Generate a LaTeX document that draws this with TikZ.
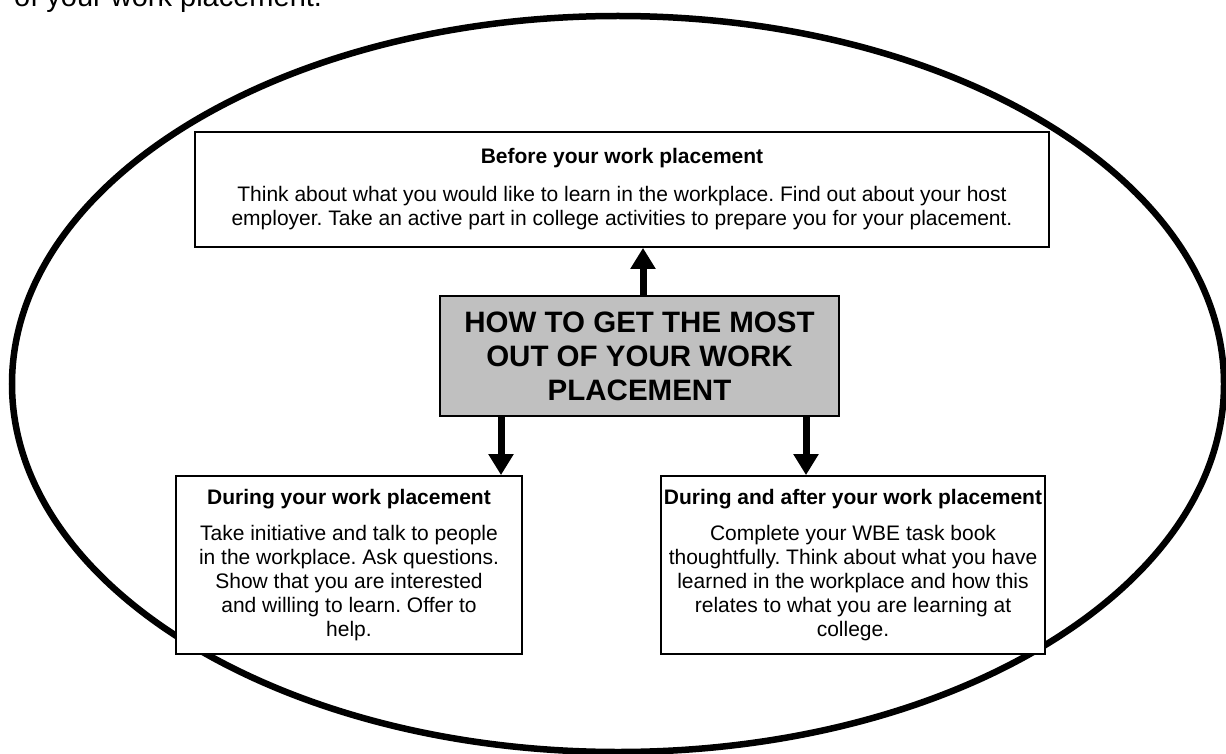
\documentclass[tikz,border=0pt]{standalone}
\usepackage{fontspec}
\setmainfont{Liberation Sans}
\frenchspacing
\usetikzlibrary{arrows.meta}
\definecolor{titlegray}{HTML}{C0C0C0}
\tikzstyle{infobox} = [rectangle, draw=black, line width=1.8pt, fill=white, align=center, inner sep=0pt, font=\fontsize{21}{24}\selectfont]
\tikzstyle{titlebox} = [rectangle, draw=black, line width=2.6pt, fill=titlegray, align=center, inner sep=0pt, font=\fontsize{29.5}{34}\selectfont\bfseries]
\tikzstyle{arrow} = [line width=7pt, -{Triangle[width=24pt, length=21pt]}]

\begin{document}
\begin{tikzpicture}[x=1pt, y=-1pt]
	\useasboundingbox (0,0) rectangle (1226,754);

		% The frame and the cut-off line above it
		\draw [line width=6.5pt] (618,384) ellipse [x radius=606, y radius=368];
		\node (intro) [anchor=base west, inner sep=0pt, font=\fontsize{29}{34}\selectfont] at (14,7) {of your work placement.};

		% Draw the nodes
		\node (before) [infobox, minimum width=854pt, minimum height=115pt] at (622,189.5) {\textbf{Before your work placement}\\[14pt] Think about what you would like to learn in the workplace. Find out about your host\\ employer. Take an active part in college activities to prepare you for your placement.};
		\node (howto) [titlebox, minimum width=399pt, minimum height=120pt] at (639.5,356) {HOW TO GET THE MOST\\ OUT OF YOUR WORK\\ PLACEMENT};
		\node (during) [infobox, minimum width=346pt, minimum height=178pt] at (349,565) {\textbf{During your work placement}\\[12pt] Take initiative and talk to people\\ in the workplace. Ask questions.\\ Show that you are interested\\ and willing to learn. Offer to\\ help.};
		\node (after) [infobox, minimum width=384pt, minimum height=178pt] at (853,565) {\textbf{During and after your work placement}\\[12pt] Complete your WBE task book\\ thoughtfully. Think about what you have\\ learned in the workplace and how this\\ relates to what you are learning at\\ college.};

		%Draw the arrows
		\draw [arrow] (howto.north -| 643,0) -- (before.south -| 643,0);
		\draw [arrow] (howto.south -| 501,0) -- (during.north -| 501,0);
		\draw [arrow] (howto.south -| 806,0) -- (after.north -| 806,0);

\end{tikzpicture}
\end{document}
